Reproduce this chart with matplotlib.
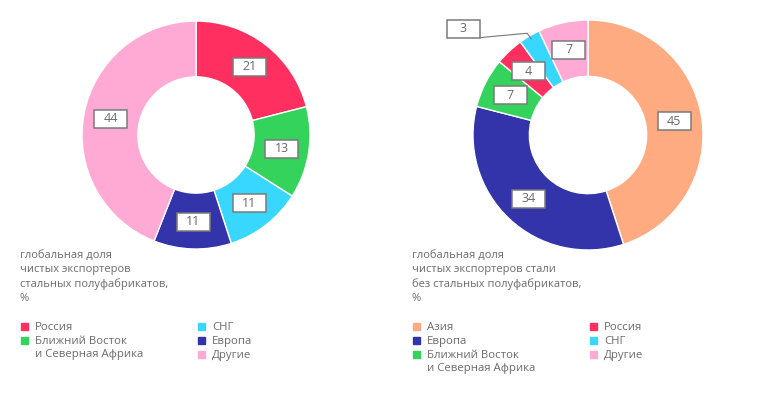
import matplotlib
matplotlib.use("Agg")
import matplotlib.pyplot as plt
from matplotlib.patches import Rectangle
import numpy as np

plt.rcParams['font.family'] = ['Open Sans', 'DejaVu Sans']

# ---- data ----
left_labels = ["Россия", "Ближний Восток\nи Северная Африка", "СНГ", "Европа", "Другие"]
left_values = [21, 13, 11, 11, 44]
left_colors = ["#ff3060", "#33d35c", "#38d7ff", "#3333aa", "#ffaad5"]
left_title = "глобальная доля\nчистых экспортеров\nстальных полуфабрикатов,\n%"

right_labels = ["Азия", "Европа", "Ближний Восток\nи Северная Африка", "Россия", "СНГ", "Другие"]
right_values = [45, 34, 7, 4, 3, 7]
right_colors = ["#ffab82", "#3333aa", "#33d35c", "#ff3060", "#38d7ff", "#ffaad5"]
right_title = "глобальная доля\nчистых экспортеров стали\nбез стальных полуфабрикатов,\n%"

W, H = 784, 393
TXT = "#6b6b6b"
fig = plt.figure(figsize=(W / 100, H / 100), dpi=100)


def donut(cx, cy, r, values, colors, outside=()):
    ax = fig.add_axes([(cx - r) / W, (H - cy - r) / H, 2 * r / W, 2 * r / H])
    wedges, _ = ax.pie(values, colors=colors, startangle=90, counterclock=False,
                       radius=1, wedgeprops=dict(width=0.49, edgecolor="white", linewidth=1))
    ax.set_xlim(-1, 1)
    ax.set_ylim(-1, 1)
    ax.set_aspect("equal")
    ax.axis("off")
    bw, bh = 33 / r, 18 / r
    for i, (w, v) in enumerate(zip(wedges, values)):
        ang = np.deg2rad((w.theta1 + w.theta2) / 2)
        if i in outside:
            # small slice: label outside with a leader line
            px, py = 0.97 * np.cos(ang), 0.97 * np.sin(ang)
            lx, ly = px - 0.59, py + 0.09
            ax.plot([lx + bw / 2, px - 0.035, px], [ly - bh / 2, py + 0.05, py],
                    color="#777777", lw=0.8, clip_on=False)
        else:
            lx, ly = 0.76 * np.cos(ang), 0.76 * np.sin(ang)
        ax.add_patch(Rectangle((lx - bw / 2, ly - bh / 2), bw, bh, facecolor="white",
                               edgecolor="#7a7a7a", lw=1.1, clip_on=False, zorder=3))
        ax.text(lx, ly, str(v), ha="center", va="center", fontsize=9, color=TXT, zorder=4)


def legend(x0, x1, title, labels, colors, split):
    fig.text(x0 / W, 1 - 249.5 / H, title, ha="left", va="top", fontsize=8, color=TXT,
             linespacing=1.38)
    for xs, items in [(x0, range(split)), (x1, range(split, len(labels)))]:
        y = 326.5
        for i in items:
            fig.patches.append(Rectangle(((xs + 1) / W, 1 - (y + 3.5) / H), 7 / W, 7 / H,
                                         transform=fig.transFigure, color=colors[i]))
            fig.text((xs + 15) / W, 1 - (y - 5) / H, labels[i], ha="left", va="top",
                     fontsize=8.2, color=TXT, linespacing=1.3)
            y += 14.2 * (labels[i].count("\n") + 1)


donut(196, 135, 114, left_values, left_colors)
donut(588, 135, 115, right_values, right_colors, outside=(4,))
legend(20, 197, left_title, left_labels, left_colors, 2)
legend(412, 589, right_title, right_labels, right_colors, 3)

fig.savefig("out.png", dpi=100, facecolor="white")
